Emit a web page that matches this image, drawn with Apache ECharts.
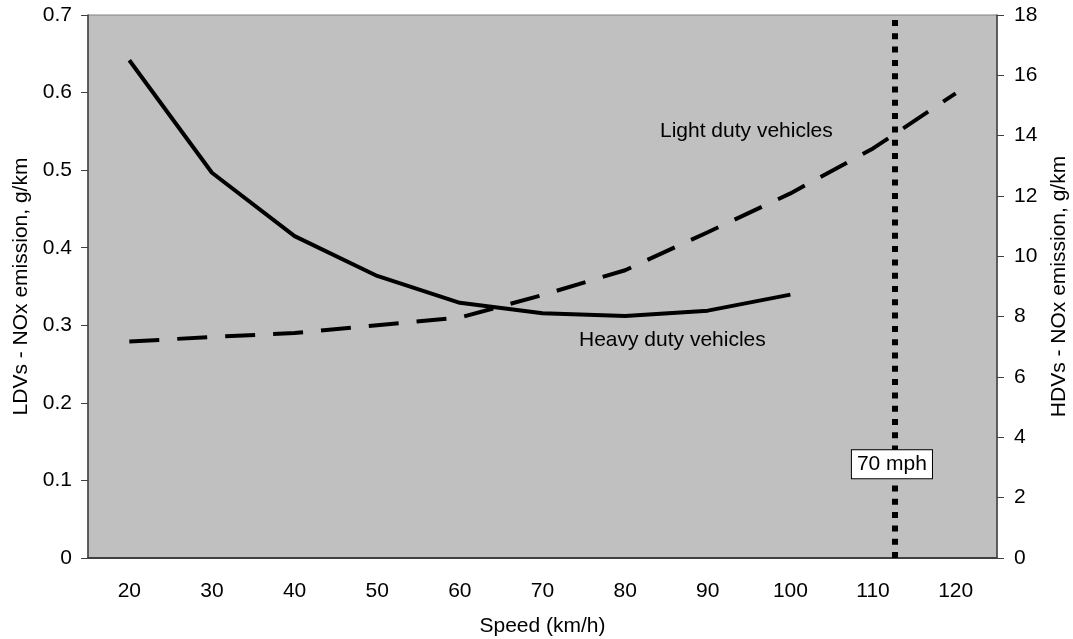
<!DOCTYPE html>
<html>
<head>
<meta charset="utf-8">
<script src="https://cdn.jsdelivr.net/npm/echarts@6/dist/echarts.min.js"></script>
<style>
  html, body { margin: 0; padding: 0; background: #fff; }
  #chart { width: 1073px; height: 639px; }
</style>
</head>
<body>
<div id="chart"></div>
<script>
  // speeds (km/h)
  var speedsLdv = [20, 30, 40, 50, 60, 70, 80, 90, 100, 110, 120];
  var speedsHdv = [20, 30, 40, 50, 60, 70, 80, 90, 100];
  // light duty vehicles, g/km (left axis)
  var ldvNox = [0.279, 0.285, 0.290, 0.300, 0.310, 0.339, 0.371, 0.420, 0.470, 0.528, 0.599];
  // heavy duty vehicles, g/km (right axis)
  var hdvNox = [16.5, 12.77, 10.67, 9.35, 8.46, 8.11, 8.02, 8.2, 8.73];
  var speedTicks = [20, 30, 40, 50, 60, 70, 80, 90, 100, 110, 120];
  var limitKmh = 112.65; // 70 mph
  var limitLabelAt = 0.121;

  var font = 'Liberation Sans, Arial, sans-serif';
  var fs = 21;
  var chart = echarts.init(document.getElementById('chart'));

  function pairs(xs, ys) {
    return xs.map(function (x, i) { return [x, ys[i]]; });
  }

  chart.setOption({
    animation: false,
    textStyle: { fontFamily: font },
    grid: {
      left: 88, right: 76, top: 15, bottom: 81,
      outerBoundsMode: 'none',
      show: true,
      backgroundColor: '#c0c0c0',
      borderColor: '#808080',
      borderWidth: 1
    },
    xAxis: {
      type: 'value',
      min: 15, max: 125, interval: 5,
      name: 'Speed (km/h)',
      nameLocation: 'middle',
      nameGap: 58,
      nameTextStyle: { color: '#000', fontSize: fs, fontFamily: font },
      axisLine: { lineStyle: { color: '#404040', width: 2 } },
      axisTick: { show: false },
      splitLine: { show: false },
      axisLabel: {
        color: '#000', fontSize: fs, margin: 23, fontFamily: font,
        formatter: function (v) { return speedTicks.indexOf(v) >= 0 ? String(v) : ''; }
      }
    },
    yAxis: [{
      type: 'value',
      min: 0, max: 0.7, interval: 0.1,
      name: 'LDVs - NOx emission, g/km',
      nameLocation: 'middle',
      nameRotate: 90,
      nameGap: 53,
      nameTextStyle: { color: '#000', fontSize: fs, fontFamily: font },
      axisLine: { show: true, lineStyle: { color: '#404040', width: 1.5 } },
      axisTick: { show: true, length: 7, lineStyle: { color: '#404040' } },
      splitLine: { show: false },
      axisLabel: { color: '#000', fontSize: fs, margin: 16, fontFamily: font }
    }, {
      type: 'value',
      min: 0, max: 18, interval: 2,
      name: 'HDVs - NOx emission, g/km',
      nameLocation: 'middle',
      nameRotate: 90,
      nameGap: 49,
      nameTextStyle: { color: '#000', fontSize: fs, fontFamily: font },
      axisLine: { show: true, lineStyle: { color: '#404040', width: 1.5 } },
      axisTick: { show: true, length: 7, lineStyle: { color: '#404040' } },
      splitLine: { show: false },
      axisLabel: { color: '#000', fontSize: fs, margin: 17, fontFamily: font }
    }],
    series: [{
      name: 'Light duty vehicles',
      type: 'line',
      yAxisIndex: 0,
      data: pairs(speedsLdv, ldvNox),
      symbol: 'none',
      lineStyle: { color: '#000', width: 4, type: [30, 18], cap: 'butt' },
      z: 3
    }, {
      name: 'Heavy duty vehicles',
      type: 'line',
      yAxisIndex: 1,
      data: pairs(speedsHdv, hdvNox),
      symbol: 'none',
      lineStyle: { color: '#000', width: 4 },
      z: 3,
      markLine: {
        silent: true,
        symbol: 'none',
        label: { show: false },
        lineStyle: { color: '#000', width: 6, type: [6, 7.3], cap: 'butt' },
        data: [{ xAxis: limitKmh }]
      }
    }, {
      type: 'scatter',
      yAxisIndex: 0,
      data: [[limitKmh, limitLabelAt]],
      symbolSize: 0,
      itemStyle: { opacity: 1 },
      z: 10,
      label: {
        show: true,
        position: 'inside',
        offset: [-3, 0],
        formatter: '70 mph',
        color: '#000',
        fontSize: fs,
        fontFamily: font,
        backgroundColor: '#fff',
        borderColor: '#000',
        borderWidth: 1,
        padding: [4, 5, 3, 5]
      }
    }],
    graphic: [{
      type: 'text',
      left: 660, top: 121,
      style: { text: 'Light duty vehicles', fill: '#000', font: fs + 'px ' + font }
    }, {
      type: 'text',
      left: 579, top: 330,
      style: { text: 'Heavy duty vehicles', fill: '#000', font: fs + 'px ' + font }
    }]
  });
</script>
</body>
</html>
